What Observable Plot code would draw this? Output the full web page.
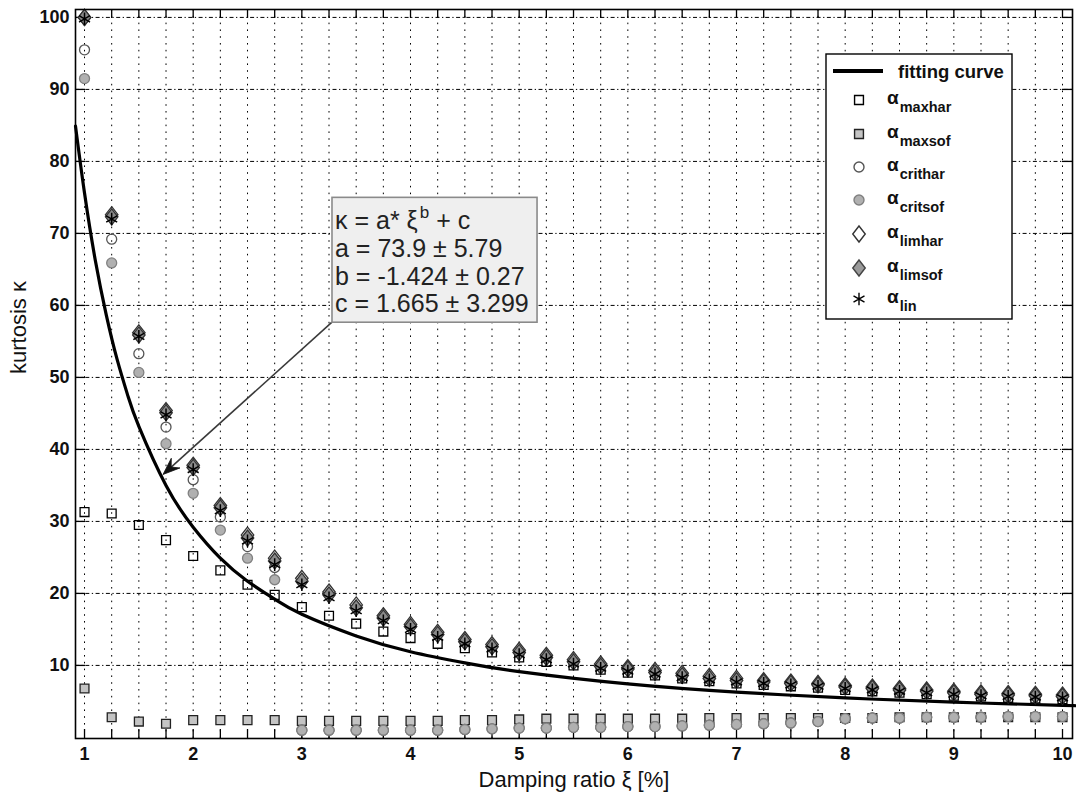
<!DOCTYPE html>
<html>
<head>
<meta charset="utf-8">
<script src="https://cdn.jsdelivr.net/npm/d3@7"></script>
<script src="https://cdn.jsdelivr.net/npm/@observablehq/plot@0.6"></script>
<style>
  html, body { margin: 0; padding: 0; background: white; }
  #chart { position: relative; width: 1076px; height: 797px; }
</style>
</head>
<body>
<div id="chart"></div>
<script>
// ---------- data ----------
const xi = [1, 1.25, 1.5, 1.75, 2, 2.25, 2.5, 2.75, 3, 3.25, 3.5, 3.75, 4, 4.25, 4.5, 4.75, 5, 5.25, 5.5, 5.75, 6, 6.25, 6.5, 6.75, 7, 7.25, 7.5, 7.75, 8, 8.25, 8.5, 8.75, 9, 9.25, 9.5, 9.75, 10];

const maxhar = [31.3, 31.1, 29.5, 27.4, 25.2, 23.2, 21.2, 19.8, 18.1, 16.9, 15.8, 14.7, 13.8, 13.0, 12.4, 11.8, 11.1, 10.5, 10.0, 9.4, 9.0, 8.6, 8.2, 7.8, 7.5, 7.3, 7.1, 6.9, 6.6, 6.4, 6.2, 6.0, 5.8, 5.7, 5.5, 5.4, 5.3];
const maxsof = [6.8, 2.8, 2.2, 1.9, 2.4, 2.4, 2.4, 2.4, 2.3, 2.3, 2.3, 2.3, 2.3, 2.3, 2.4, 2.4, 2.5, 2.6, 2.6, 2.6, 2.6, 2.6, 2.6, 2.7, 2.7, 2.7, 2.7, 2.7, 2.7, 2.7, 2.8, 2.8, 2.8, 2.8, 2.8, 2.8, 2.8];
const crithar = [95.5, 69.2, 53.3, 43.1, 35.8, 30.6, 26.5, 23.6, 1.0, 1.0, 1.0, 1.0, 1.0, 1.0, 1.1, 1.2, 1.3, 1.3, 1.4, 1.4, 1.5, 1.5, 1.6, 1.7, 1.8, 1.9, 2.0, 2.2, 2.6, 2.7, 2.7, 2.8, 2.8, 2.8, 2.9, 2.9, 2.9];
const critsof = [91.5, 65.9, 50.7, 40.8, 33.9, 28.8, 24.9, 21.9, 1.0, 1.0, 1.0, 1.0, 1.0, 1.0, 1.1, 1.2, 1.3, 1.3, 1.4, 1.4, 1.5, 1.5, 1.6, 1.7, 1.8, 1.9, 2.0, 2.2, 2.6, 2.7, 2.7, 2.8, 2.8, 2.8, 2.9, 2.9, 2.9];
const limhar = [100, 72.6, 56.2, 45.4, 37.8, 32.2, 28.1, 24.9, 22.1, 20.2, 18.4, 16.9, 15.7, 14.6, 13.6, 12.9, 12.1, 11.4, 10.8, 10.2, 9.7, 9.3, 8.9, 8.5, 8.2, 7.9, 7.7, 7.5, 7.2, 7.0, 6.8, 6.6, 6.4, 6.2, 6.1, 6.0, 5.9];
const limsof = [100, 72.3, 55.9, 45.1, 37.5, 31.9, 27.7, 24.5, 21.7, 19.8, 18.0, 16.6, 15.4, 14.3, 13.3, 12.6, 11.8, 11.1, 10.5, 9.9, 9.5, 9.0, 8.6, 8.2, 7.9, 7.7, 7.5, 7.3, 7.0, 6.8, 6.6, 6.4, 6.2, 6.0, 5.9, 5.8, 5.7];
const lin = [99.8, 72.0, 55.7, 44.8, 37.2, 31.5, 27.3, 24.0, 21.2, 19.4, 17.6, 16.2, 15.0, 13.9, 13.0, 12.3, 11.5, 10.8, 10.2, 9.6, 9.2, 8.8, 8.3, 8.0, 7.7, 7.5, 7.3, 7.1, 6.8, 6.6, 6.4, 6.2, 6.0, 5.8, 5.7, 5.6, 5.5];

// fitting curve
const fitX = [0.917, 1, 1.1, 1.2, 1.3, 1.4, 1.5, 1.75, 2, 2.25, 2.5, 2.75, 3, 3.5, 4, 4.5, 5, 6, 7, 8, 9, 10, 10.092];
const fitY = [84.9, 75.6, 66.2, 58.7, 52.5, 47.4, 43.2, 35.0, 29.2, 24.9, 21.7, 19.2, 17.1, 14.1, 11.9, 10.35, 9.14, 7.43, 6.29, 5.49, 4.90, 4.45, 4.41];

const xTicks = [1, 2, 3, 4, 5, 6, 7, 8, 9, 10];
const xMinor = d3.range(37).map(i => 1 + i * 0.25);
const yTicks = [10, 20, 30, 40, 50, 60, 70, 80, 90, 100];

const fitText = ["κ = a* ξ", "a = 73.9 ± 5.79", "b = -1.424 ± 0.27", "c = 1.665 ± 3.299"];
const legendLabels = ["maxhar", "maxsof", "crithar", "critsof", "limhar", "limsof", "lin"];

// ---------- chart ----------
const FONT = "'Liberation Sans', Arial, Helvetica, sans-serif";
const xDom = [0.917, 10.092];
const yDom = [-0.15, 101.1];

const diamondWide = {
  draw(ctx, size) {
    const r = Math.sqrt(size / Math.PI);
    const h = r * 1.6, w = r * 1.25;
    ctx.moveTo(0, -h); ctx.lineTo(w, 0); ctx.lineTo(0, h); ctx.lineTo(-w, 0); ctx.closePath();
  }
};

const rows = (ys) => xi.map((x, i) => ({x, y: ys[i]}));
const fit = fitX.map((x, i) => ({x, y: fitY[i]}));

const tickLenY = 9 / 7.22;     // inner tick length along y (≈9px)
const tickLenX = 10 / 108.7;   // inner tick length along x (≈10px)

const chart = Plot.plot({
  width: 1076,
  height: 797,
  marginLeft: 75,
  marginRight: 4,
  marginTop: 9,
  marginBottom: 59,
  style: {fontFamily: FONT, background: "white", color: "#111"},
  x: {domain: xDom},
  y: {domain: yDom},
  marks: [
    Plot.ruleX(xMinor, {x: d => d, stroke: "#000", strokeWidth: 1, strokeDasharray: "1.6,5.2"}),
    Plot.ruleY(yTicks, {y: d => d, stroke: "#000", strokeWidth: 1, strokeDasharray: "4,2.5,1.3,2.5"}),
    // inward ticks
    Plot.ruleX(xMinor, {x: d => d, y1: yDom[0], y2: yDom[0] + tickLenY, stroke: "#000", strokeWidth: 1.3}),
    Plot.ruleX(xMinor, {x: d => d, y1: yDom[1], y2: yDom[1] - tickLenY, stroke: "#000", strokeWidth: 1.3}),
    Plot.ruleY(yTicks, {y: d => d, x1: xDom[0], x2: xDom[0] + tickLenX, stroke: "#000", strokeWidth: 1.3}),
    Plot.ruleY(yTicks, {y: d => d, x1: xDom[1], x2: xDom[1] - tickLenX, stroke: "#000", strokeWidth: 1.3}),
    Plot.axisX(xTicks, {tickSize: 0, tickPadding: 9, fontSize: 18, fontWeight: "bold", label: null}),
    Plot.axisY(yTicks, {tickSize: 0, tickPadding: 6, fontSize: 18, fontWeight: "bold", label: null}),
    Plot.text(["Damping ratio ξ [%]"], {frameAnchor: "bottom", dy: 48, lineAnchor: "bottom", fontSize: 22, fill: "#111", text: d => d}),
    Plot.text(["kurtosis κ"], {frameAnchor: "left", dx: -50, rotate: -90, lineAnchor: "bottom", fontSize: 22, fill: "#111", text: d => d}),
    // fitting curve
    Plot.line(fit, {x: "x", y: "y", curve: "natural", stroke: "#000", strokeWidth: 3.2}),
    // series
    Plot.dot(rows(maxhar), {x: "x", y: "y", symbol: "square", r: 5, fill: "none", stroke: "#000", strokeWidth: 1.3}),
    Plot.dot(rows(maxsof), {x: "x", y: "y", symbol: "square", r: 5, fill: "#c4c4c4", stroke: "#222", strokeWidth: 1.3}),
    Plot.dot(rows(crithar), {x: "x", y: "y", r: 5, fill: "none", stroke: "#555", strokeWidth: 1.3}),
    Plot.dot(rows(critsof), {x: "x", y: "y", r: 5, fill: "#b0b0b0", stroke: "#808080", strokeWidth: 1.3}),
    Plot.dot(rows(limhar), {x: "x", y: "y", symbol: diamondWide, r: 5, fill: "none", stroke: "#333", strokeWidth: 1.3}),
    Plot.dot(rows(limsof), {x: "x", y: "y", symbol: diamondWide, r: 5, fill: "#8a8a8a", stroke: "#333", strokeWidth: 1.3}),
    Plot.dot(rows(lin), {x: "x", y: "y", symbol: "asterisk", r: 6, stroke: "#000", strokeWidth: 1.5}),
    Plot.frame({stroke: "#000", strokeWidth: 1.6})
  ]
});

document.getElementById("chart").appendChild(chart);

// ---------- annotation (box + arrow), placed in data coordinates ----------
const sx = chart.scale("x"), sy = chart.scale("y");
const svg = d3.select(chart);
const ann = {x1: 3.282, y1: 74.94, x2: 5.169, y2: 57.6, tipX: 1.727, tipY: 36.45};
const bx1 = sx.apply(ann.x1), by1 = sy.apply(ann.y1), bx2 = sx.apply(ann.x2), by2 = sy.apply(ann.y2);
const tx = sx.apply(ann.tipX), ty = sy.apply(ann.tipY);

const g = svg.append("g").attr("font-family", FONT).attr("text-anchor", "start");
// arrow
const dxA = tx - bx1, dyA = ty - by2, len = Math.hypot(dxA, dyA);
const ux = dxA / len, uy = dyA / len, nx = -uy, ny = ux;
const L = 17, W = 6.5, N = 6;
g.append("line").attr("x1", bx1).attr("y1", by2).attr("x2", tx - ux * (L - N)).attr("y2", ty - uy * (L - N))
  .attr("stroke", "#3a3a3a").attr("stroke-width", 1.6);
g.append("path").attr("d", `M${tx},${ty} L${tx - ux * L + nx * W},${ty - uy * L + ny * W} L${tx - ux * (L - N)},${ty - uy * (L - N)} L${tx - ux * L - nx * W},${ty - uy * L - ny * W} Z`)
  .attr("fill", "#111").attr("stroke", "#111").attr("stroke-width", 0.8).attr("stroke-linejoin", "miter");
// box
g.append("rect").attr("x", bx1).attr("y", by1).attr("width", bx2 - bx1).attr("height", by2 - by1)
  .attr("fill", "#efefef").attr("stroke", "#8a8a8a").attr("stroke-width", 1.6);
const lineH = 27.6;
fitText.forEach((t, i) => {
  const tEl = g.append("text").attr("x", bx1 + 3).attr("y", by1 + 32 + i * lineH)
    .attr("font-size", 25).attr("fill", "#222").attr("text-anchor", "start");
  if (i === 0) {
    tEl.append("tspan").text(t);
    tEl.append("tspan").attr("font-size", 17).attr("dy", -11).attr("dx", 2).text("b");
    tEl.append("tspan").attr("dy", 11).text(" + c");
  } else {
    tEl.text(t);
  }
});

// ---------- legend ----------
const lg = svg.append("g").attr("font-family", FONT).attr("text-anchor", "start");
lg.append("rect").attr("x", 826).attr("y", 54).attr("width", 186).attr("height", 265)
  .attr("fill", "white").attr("stroke", "#000").attr("stroke-width", 1.4);
lg.append("line").attr("x1", 833).attr("x2", 883).attr("y1", 71).attr("y2", 71).attr("stroke", "#000").attr("stroke-width", 4);
lg.append("text").attr("x", 898).attr("y", 77.5).attr("font-size", 18.5).attr("font-weight", "bold").attr("fill", "#111").attr("text-anchor", "start").text("fitting curve");

const rowY = [100, 134, 167, 200, 234, 268, 299];
const styles = [
  {sym: d3.symbolSquare, r: 5, fill: "none", stroke: "#000"},
  {sym: d3.symbolSquare, r: 5, fill: "#c4c4c4", stroke: "#222"},
  {sym: d3.symbolCircle, r: 5, fill: "none", stroke: "#555"},
  {sym: d3.symbolCircle, r: 5, fill: "#b0b0b0", stroke: "#808080"},
  {sym: diamondWide, r: 5, fill: "none", stroke: "#333"},
  {sym: diamondWide, r: 5, fill: "#9a9a9a", stroke: "#444"},
  {sym: d3.symbolAsterisk, r: 6, fill: "none", stroke: "#000"}
];
legendLabels.forEach((lab, i) => {
  const s = styles[i], y = rowY[i];
  lg.append("path").attr("transform", `translate(859,${y})`)
    .attr("d", d3.symbol(s.sym, s.r * s.r * Math.PI)())
    .attr("fill", s.fill).attr("stroke", s.stroke).attr("stroke-width", 1.4);
  const t = lg.append("text").attr("x", 887).attr("y", y + 4).attr("font-weight", "bold").attr("fill", "#111").attr("text-anchor", "start");
  t.append("tspan").attr("font-size", 19).text("α");
  t.append("tspan").attr("font-size", 14.5).attr("dy", 8).attr("dx", 1).text(lab);
});
</script>
</body>
</html>
